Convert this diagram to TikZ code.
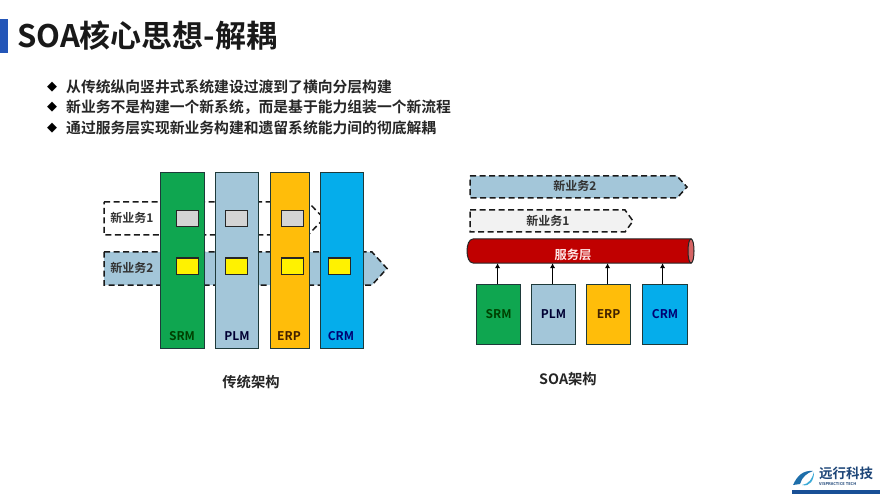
\documentclass[tikz,border=0pt]{standalone}
\usepackage{fontspec}
\setmainfont{Noto Sans CJK SC}[BoldFont={Noto Sans CJK SC Bold}]
\newfontfamily\dejavu{DejaVu Sans}
\usetikzlibrary{arrows.meta}
\definecolor{cgreen}{HTML}{0FA650}
\definecolor{cplm}{HTML}{A3C6D9}
\definecolor{cerp}{HTML}{FFBD0A}
\definecolor{ccrm}{HTML}{05ADEB}
\definecolor{cred}{HTML}{C00000}
\definecolor{cedge}{HTML}{1E3A3A}
\tikzset{
  x=1pt,y=-1pt,
  colbox/.style={draw=cedge,line width=1.1pt,minimum width=#1,inner sep=0pt,anchor=north west},
  syslabel/.style={font=\bfseries\fontsize{12}{13}\selectfont,inner sep=0pt},
  cellbox/.style={draw=black!85,line width=1pt,minimum width=22pt,minimum height=16pt,inner sep=0pt},
  bizline/.style={draw=black!90,dash pattern=on 6pt off 3.5pt,line width=1.5pt},
  bizlabel/.style={font=\bfseries\fontsize{12}{13}\selectfont,text=black!80,inner sep=0pt},
  caption/.style={font=\bfseries\fontsize{14.3}{16}\selectfont,text=black!85,inner sep=0pt},
  bullettext/.style={font=\bfseries\fontsize{14.8}{16}\selectfont,text=black!85,anchor=west,inner sep=0pt},
  bulletmark/.style={font=\dejavu\fontsize{13}{14}\selectfont,text=black,inner sep=0pt},
  uparrow/.style={draw=black,line width=1.5pt,-{Latex[length=5pt,width=5.5pt]}},
}
\begin{document}
\begin{tikzpicture}
\useasboundingbox (0,0) rectangle (880,494);
\fill[white] (0,0) rectangle (880,494);
% title
\fill[fill={rgb,255:red,36;green,86;blue,184}] (0,19) rectangle (8,53);
\node[anchor=west,inner sep=0pt,font=\bfseries\fontsize{31}{33}\selectfont,text=black!90] (title) at (17,36) {SOA核心思想-解耦};
% bullets
\node[bulletmark] (m1) at (52,87) {◆};
\node[bullettext] (t1) at (66,87) {从传统纵向竖井式系统建设过渡到了横向分层构建};
\node[bulletmark] (m2) at (52,107) {◆};
\node[bullettext] (t2) at (66,107) {新业务不是构建一个新系统，而是基于能力组装一个新流程};
\node[bulletmark] (m3) at (52,128) {◆};
\node[bullettext] (t3) at (66,128) {通过服务层实现新业务构建和遗留系统能力间的彻底解耦};
% left: business flows
\path[bizline,fill=white] (104,202) -- (308,202) -- (324,218.5) -- (308,235) -- (104,235) -- cycle;
\path[bizline,fill=cplm] (104,252) -- (372,252) -- (387,268.5) -- (372,285) -- (104,285) -- cycle;
\node[bizlabel] (lb1) at (132,218) {新业务1};
\node[bizlabel] (lb2) at (132,268) {新业务2};
% left: columns
\node[colbox=44pt,minimum height=176pt,fill=cgreen] (lsrm) at (160,172) {};
\node[colbox=43pt,minimum height=176pt,fill=cplm] (lplm) at (215,172) {};
\node[colbox=39pt,minimum height=176pt,fill=cerp] (lerp) at (270,172) {};
\node[colbox=43pt,minimum height=176pt,fill=ccrm] (lcrm) at (320,172) {};
\node[syslabel,text=green!25!black] (lsrmt) at (182,336) {SRM};
\node[syslabel,text=black!80!blue] (lplmt) at (237,336) {PLM};
\node[syslabel,text=black!75!orange] (lerpt) at (289,336) {ERP};
\node[syslabel,text=blue!45!black] (lcrmt) at (341,336) {CRM};
% left: cells
\node[cellbox,fill=black!17] (g1) at (187,218.5) {};
\node[cellbox,fill=black!17] (g2) at (236.5,218.5) {};
\node[cellbox,fill=black!17] (g3) at (292,218.5) {};
\node[cellbox,fill=yellow] (y1) at (187,266) {};
\node[cellbox,fill=yellow] (y2) at (236.5,266) {};
\node[cellbox,fill=yellow] (y3) at (292,266) {};
\node[cellbox,fill=yellow] (y4) at (339.5,266) {};
\node[caption] (capl) at (251,382) {传统架构};
% right: business flows
\path[bizline,fill=cplm] (470,176) -- (677,176) -- (687,187) -- (677,198) -- (470,198) -- cycle;
\path[bizline,fill=black!5] (470,210) -- (625,210) -- (633,221) -- (625,232) -- (470,232) -- cycle;
\node[bizlabel] (rb2) at (575,186) {新业务2};
\node[bizlabel] (rb1) at (548,221) {新业务1};
% right: service layer
\path[draw=black!85,line width=1pt,fill=cred] (691,239) -- (473,239) .. controls (465,239) and (465,263) .. (473,263) -- (691,263) -- cycle;
\path[draw=black!85,line width=1pt,fill={rgb,255:red,214;green,100;blue,100}] (691,239) .. controls (695,239) and (695,263) .. (691,263) .. controls (687,263) and (687,239) .. (691,239) -- cycle;
\node[minimum width=227pt,minimum height=24pt,inner sep=0pt] (cyl) at (580.5,251) {};
\node[font=\bfseries\fontsize{12.3}{13}\selectfont,text=red!10!white,inner sep=0pt] (cylt) at (573,255) {服务层};
% right: systems
\node[colbox=44pt,minimum height=60pt,fill=cgreen] (rsrm) at (476,284) {};
\node[colbox=44pt,minimum height=60pt,fill=cplm] (rplm) at (531,284) {};
\node[colbox=44pt,minimum height=60pt,fill=cerp] (rerp) at (586,284) {};
\node[colbox=45pt,minimum height=60pt,fill=ccrm] (rcrm) at (642,284) {};
\node[syslabel,text=green!25!black] at (rsrm.center) (rsrmt) {SRM};
\node[syslabel,text=black!80!blue] at (rplm.center) (rplmt) {PLM};
\node[syslabel,text=black!75!orange] at (rerp.center) (rerpt) {ERP};
\node[syslabel,text=blue!45!black] at (rcrm.center) (rcrmt) {CRM};
\draw[uparrow] (rsrm.north) ++(-1,0) coordinate (a1) -- (a1 |- cyl.south);
\draw[uparrow] (rplm.north) ++(-1,0) coordinate (a2) -- (a2 |- cyl.south);
\draw[uparrow] (rerp.north) ++(-1,0) coordinate (a3) -- (a3 |- cyl.south);
\draw[uparrow] (rcrm.north) ++(-2.5,0) coordinate (a4) -- (a4 |- cyl.south);
\node[caption] (capr) at (568,379) {SOA架构};
% logo
\fill[fill={rgb,255:red,30;green,110;blue,170}] (793,485) .. controls (797,476) and (803,470) .. (813,471) .. controls (807,473) and (802,477) .. (800,484) -- cycle;
\fill[fill={rgb,255:red,60;green,170;blue,215}] (802,485) .. controls (809,484) and (812,479) .. (814,472) .. controls (814,480) and (810,487) .. (802,485) -- cycle;
\node[anchor=west,inner sep=0pt,font=\bfseries\fontsize{13.5}{14}\selectfont,text={rgb,255:red,30;green,70;blue,120}] (logot) at (819,473.5) {远行科技};
\node[anchor=west,inner sep=0pt,font=\bfseries\fontsize{4}{5}\selectfont,text={rgb,255:red,30;green,70;blue,120}] (logos) at (819,484) {VISPRACTICE TECH};
\fill[fill={rgb,255:red,25;green,80;blue,150}] (792,490) rectangle (880,494);
\end{tikzpicture}
\end{document}
